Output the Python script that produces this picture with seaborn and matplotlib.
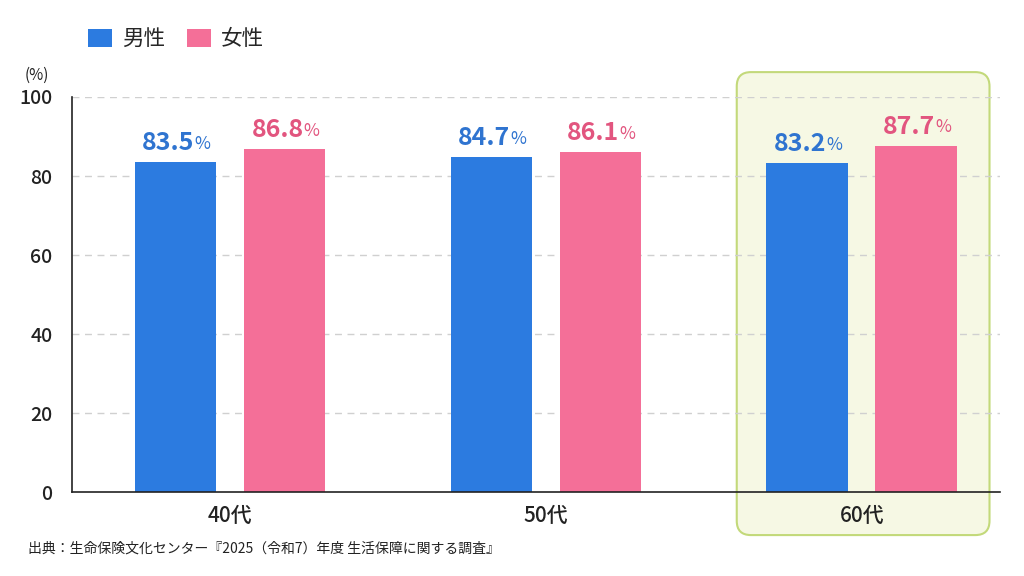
import numpy as np
import pandas as pd
import matplotlib
matplotlib.use('Agg')
import matplotlib.pyplot as plt
import seaborn as sns
from matplotlib.patches import Patch, FancyBboxPatch

# data
ages = ['40代', '50代', '60代']
male = [83.5, 84.7, 83.2]
female = [86.8, 86.1, 87.7]
sexes = ['男性', '女性']
source = '出典：生命保険文化センター『2025（令和7）年度 生活保障に関する調査』'

blue = '#2c7be0'
pink = '#f46f98'
blue_txt = '#2f74d0'
pink_txt = '#e2557f'

df = pd.DataFrame({
    'age': ages * 2,
    'rate': male + female,
    'sex': [sexes[0]] * 3 + [sexes[1]] * 3,
})

sns.set_theme(style='white')
plt.rcParams['font.family'] = ['Noto Sans CJK JP', 'DejaVu Sans']

fig = plt.figure(figsize=(10.24, 5.76), dpi=100)
ax = fig.add_axes([0.0703, 0.1458, 0.9062, 0.6858])

sns.barplot(data=df, x='age', y='rate', hue='sex', palette=[blue, pink],
            width=0.69, gap=0.25, legend=False, ax=ax, zorder=3,
            saturation=1, linewidth=0)

ax.set_xlim(-0.5, 2.437)
ax.set_ylim(0, 100)
ax.set_yticks(range(0, 101, 20))
ax.set_xlabel('')
ax.set_ylabel('')

# highlight box around 60代
box = FancyBboxPatch((1.604, -10.9), 0.80, 117.2,
                     boxstyle='round,pad=0,rounding_size=0.045',
                     mutation_aspect=80,
                     facecolor='#f6f8e4', edgecolor='#c3d97a', linewidth=1.5,
                     clip_on=False, zorder=0, transform=ax.transData)
ax.add_patch(box)

for y in range(20, 101, 20):
    ax.axhline(y, color='#d0d0d0', linestyle=(0, (5, 4)), linewidth=1, zorder=1)

for s in ['top', 'right']:
    ax.spines[s].set_visible(False)
for s in ['left', 'bottom']:
    ax.spines[s].set_color('#222222')
    ax.spines[s].set_linewidth(1.2)
    ax.spines[s].set_zorder(4)
ax.set_facecolor('none')

ax.tick_params(axis='y', labelsize=14, length=0, pad=14, labelcolor='#222222')
ax.tick_params(axis='x', labelsize=15, length=0, pad=9, labelcolor='#222222')
for lab in ax.get_xticklabels() + ax.get_yticklabels():
    lab.set_fontweight('medium')

# value labels
cols = [blue_txt, pink_txt]
for i, cont in enumerate(ax.containers):
    for bar in cont:
        h = bar.get_height()
        cx = bar.get_x() + bar.get_width() / 2
        t = ax.annotate(f'{h:.1f}', xy=(cx, h), xytext=(-5, 5),
                        textcoords='offset points', ha='center', va='bottom',
                        fontsize=18, fontweight='bold', color=cols[i])
        ax.annotate('%', xy=(1, 0.09), xycoords=t, xytext=(0, 0),
                    textcoords='offset points', ha='left', va='bottom',
                    fontsize=12.5, color=cols[i])

fig.text(0.024, 0.862, '(%)', fontsize=11, color='#222222')

handles = [Patch(facecolor=blue, edgecolor='none'), Patch(facecolor=pink, edgecolor='none')]
fig.legend(handles, sexes, loc='upper left', bbox_to_anchor=(0.067, 0.985), ncol=2,
           frameon=False, fontsize=15.5, handlelength=1.1, handleheight=0.9,
           handletextpad=0.5, columnspacing=1.0)

fig.text(0.027, 0.040, source, fontsize=10, color='#222222')

fig.savefig('out.png', dpi=100, facecolor='white')
